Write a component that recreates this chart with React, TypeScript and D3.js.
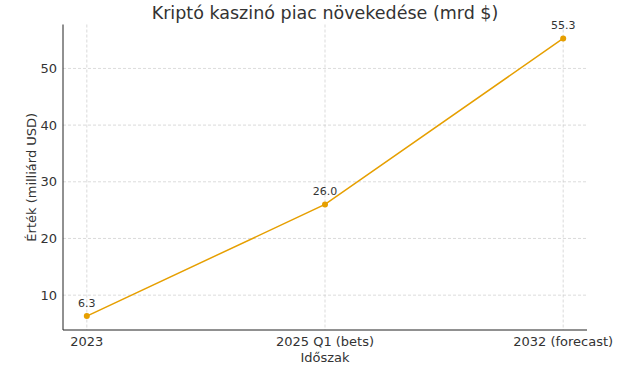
import React from "react";
import * as d3 from "d3";

const categories = ["2023", "2025 Q1 (bets)", "2032 (forecast)"];
const values = [6.3, 26.0, 55.3];
const yTicks = [10, 20, 30, 40, 50];

const W = 639, H = 369;
const M = { left: 63, right: 587, top: 24.5, bottom: 330 };

export default function App() {
  const x = d3.scaleLinear().domain([-0.1, 2.1]).range([M.left, M.right]);
  const yMin = 6.3 - 0.05 * (55.3 - 6.3);
  const yMax = 55.3 + 0.05 * (55.3 - 6.3);
  const y = d3.scaleLinear().domain([yMin, yMax]).range([M.bottom, M.top]);
  const line = d3.line<number>().x((_, i) => x(i)).y((d) => y(d));
  const font = "DejaVu Sans, sans-serif";
  const color = "#E69F00";
  const text = "#333333";
  return (
    <svg width={W} height={H} style={{ position: "absolute", left: 0, top: 0, background: "#fff" }} fontFamily={font}>
      <rect width={W} height={H} fill="#fff" />
      {yTicks.map((t) => (
        <g key={t}>
          <line x1={M.left} x2={M.right} y1={y(t)} y2={y(t)} stroke="#cccccc" strokeWidth={0.7} strokeDasharray="3,2" />
          <text x={M.left - 6} y={y(t)} dy="0.35em" textAnchor="end" fontSize={13} fill={text}>{t}</text>
        </g>
      ))}
      {categories.map((c, i) => (
        <g key={c}>
          <line x1={x(i)} x2={x(i)} y1={M.top} y2={M.bottom} stroke="#cccccc" strokeWidth={0.7} strokeDasharray="3,2" />
          <text x={x(i)} y={M.bottom + 15.5} textAnchor="middle" fontSize={13} fill={text}>{c}</text>
        </g>
      ))}
      <line x1={M.left} x2={M.left} y1={M.top} y2={M.bottom} stroke="#222" strokeWidth={1} />
      <line x1={M.left} x2={M.right} y1={M.bottom} y2={M.bottom} stroke="#222" strokeWidth={1} />
      <path d={line(values) || ""} fill="none" stroke={color} strokeWidth={1.5} />
      {values.map((v, i) => (
        <g key={i}>
          <circle cx={x(i)} cy={y(v)} r={3} fill={color} />
          <text x={x(i)} y={y(v) - 9} textAnchor="middle" fontSize={11} fill={text}>{v.toFixed(1)}</text>
        </g>
      ))}
      <text x={(M.left + M.right) / 2} y={18.5} textAnchor="middle" fontSize={17.5} fill={text}>Kriptó kaszinó piac növekedése (mrd $)</text>
      <text x={(M.left + M.right) / 2} y={362} textAnchor="middle" fontSize={13} fill={text}>Időszak</text>
      <text transform={`translate(36,${(M.top + M.bottom) / 2}) rotate(-90)`} textAnchor="middle" fontSize={13} fill={text}>Érték (milliárd USD)</text>
    </svg>
  );
}
